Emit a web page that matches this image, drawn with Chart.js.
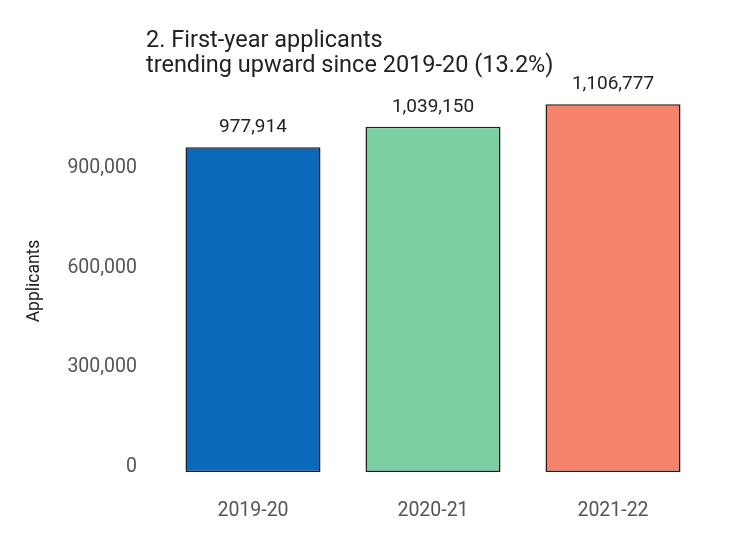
<!DOCTYPE html>
<html>
<head>
<meta charset="utf-8">
<script src="https://cdn.jsdelivr.net/npm/chart.js@4/dist/chart.umd.min.js"></script>
<style>
  body { margin: 0; background: #fff; }
  #wrap { width: 736px; height: 555px; position: relative; }
</style>
</head>
<body>
<div id="wrap"><canvas id="chart"></canvas></div>
<script>
const years = ['2019-20', '2020-21', '2021-22'];
const applicants = [977914, 1039150, 1106777];
const barColors = ['#0b69bb', '#7bcfa3', '#f5846a'];
const yTicks = [0, 300000, 600000, 900000];
const titleLines = ['2. First-year applicants', 'trending upward since 2019-20 (13.2%)'];

const fmt = v => v.toLocaleString('en-US');

// titel en waarden boven de balken
const extras = {
    id: 'extras',
    afterDatasetsDraw(chart) {
        const ctx = chart.ctx;
        ctx.save();
        ctx.fillStyle = '#222';
        ctx.font = '23.5px Roboto';
        ctx.textAlign = 'left';
        ctx.textBaseline = 'middle';
        ctx.fillText(titleLines[0], 146, 41);
        ctx.fillText(titleLines[1], 146, 66);

        ctx.font = '19px Roboto';
        ctx.textAlign = 'center';
        ctx.textBaseline = 'middle';
        chart.getDatasetMeta(0).data.forEach((bar, i) => {
            ctx.fillText(fmt(applicants[i]), bar.x, bar.y - 20);
        });
        ctx.restore();
    }
};

new Chart(document.querySelector('#chart'), {
    type: 'bar',
    data: {
        labels: years,
        datasets: [{
            data: applicants,
            backgroundColor: barColors,
            borderColor: '#1e1e1e',
            borderWidth: 1.5,
            borderSkipped: false,
            barPercentage: 0.75,
            categoryPercentage: 1
        }]
    },
    options: {
        responsive: true,
        maintainAspectRatio: false,
        animation: false,
        layout: { padding: { top: 90, left: 24, right: 33, bottom: 0 } },
        plugins: { legend: { display: false }, tooltip: { enabled: false } },
        scales: {
            x: {
                grid: { display: false, drawTicks: false },
                border: { display: false },
                ticks: { color: '#555', font: { family: 'Roboto', size: 19.5 }, padding: 27 },
                afterFit(scale) { scale.height = 83; }
            },
            y: {
                min: 0,
                max: 1150000,
                afterBuildTicks(scale) { scale.ticks = yTicks.map(v => ({ value: v })); },
                grid: { display: false, drawTicks: false },
                border: { display: false },
                ticks: {
                    color: '#555',
                    font: { family: 'Roboto', size: 19.5 },
                    padding: 26,
                    labelOffset: -5,
                    callback: v => fmt(v)
                },
                title: {
                    display: true,
                    text: 'Applicants',
                    color: '#222',
                    font: { family: 'Roboto', size: 17.5 },
                    padding: 0
                },
                afterFit(scale) { scale.width = 139; }
            }
        }
    },
    plugins: [extras]
});
</script>
</body>
</html>
